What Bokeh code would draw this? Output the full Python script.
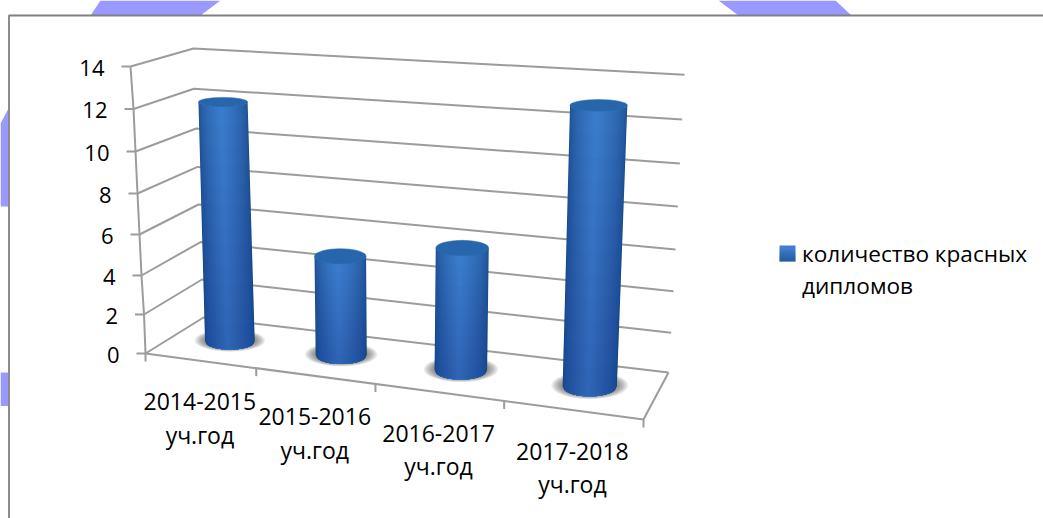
import numpy as np
from bokeh.embed import file_html
from bokeh.resources import INLINE
from bokeh.plotting import figure
from bokeh.models import Range1d
from bokeh.core.properties import value

categories = ["2014-2015", "2015-2016", "2016-2017", "2017-2018"]
category_suffix = "уч.год"
diplomas = [12, 5, 6, 13]
levels = [0, 2, 4, 6, 8, 10, 12, 14]
tick_labels = ["0", "2", "4", "6", "8", "10", "12", "14"]
legend_lines = ["количество красных", "дипломов"]

# Perspective box: screen position of each wall level at the four box corners
FL_x = [145, 143.5, 141, 139, 137, 135, 133, 130]
FL_y = [353, 314, 275, 234, 193, 151, 108.5, 66]
BL_x = [203, 201.5, 200, 198, 197, 195.7, 193.5, 193]
BL_y = [317, 279, 241.6, 204, 166.4, 128, 88.3, 48]
BR_x = [668, 670.7, 673, 675, 677.3, 679.3, 681.7, 684]
BR_y = [372, 332.3, 290.7, 249, 206, 163, 119, 74.3]
FR_x = [643, 644.7, 646.4, 648.1, 649.8, 651.5, 653.2, 655]
FR_y = [419 - (353 - y) / 287 * 318 for y in FL_y]

FONT = "Open Sans"
GRID = "#9c9c9c"
FRAME = "#808080"
PURPLE = "#9999ff"


def corner(xs, ys, v):
    return np.interp(v, levels, xs), np.interp(v, levels, ys)


def homography(c):
    src = [(0, 0), (1, 0), (1, 1), (0, 1)]
    A, b = [], []
    for (u, d), (x, y) in zip(src, c):
        A.append([u, d, 1, 0, 0, 0, -u * x, -d * x]); b.append(x)
        A.append([0, 0, 0, u, d, 1, -u * y, -d * y]); b.append(y)
    return np.append(np.linalg.solve(np.array(A, float), np.array(b, float)), 1).reshape(3, 3)


def P(cat, depth, v):
    """category position (0..n), depth (0 front..1 back), value -> screen x, y"""
    H = homography([corner(FL_x, FL_y, v), corner(FR_x, FR_y, v),
                    corner(BR_x, BR_y, v), corner(BL_x, BL_y, v)])
    r = H @ np.array([cat / len(categories), depth, 1.0])
    return r[0] / r[2], r[1] / r[2]


p = figure(width=1043, height=518, output_backend="svg", toolbar_location=None,
           x_range=Range1d(0, 1043), y_range=Range1d(518, 0), min_border=0,
           outline_line_color=None, background_fill_color="white", border_fill_color="white")
p.axis.visible = False
p.grid.visible = False

# Page-decoration bands behind the chart frame
p.patches([[90, 200, 220, 100], [738, 851, 835, 718], [0, 8, 8, 0], [0, 8, 8, 0]],
          [[15, 15, 0, 0], [15, 15, 0, 0], [123, 108, 206, 206], [372, 372, 405.5, 405.5]],
          fill_color=PURPLE, line_color=None)

# Chart frame
p.line([1043, 8.5, 8.5], [15, 15, 518], line_color=FRAME, line_width=1.8)

# Walls' grid lines
for v in levels:
    fl, bl, br = corner(FL_x, FL_y, v), corner(BL_x, BL_y, v), corner(BR_x, BR_y, v)
    p.line([fl[0], bl[0], br[0]], [fl[1], bl[1], br[1]], line_color=GRID, line_width=2)
    p.line([fl[0] - 9, fl[0]], [fl[1], fl[1]], line_color=GRID, line_width=2)

# Value axis
p.line(FL_x, FL_y, line_color=GRID, line_width=2)
p.line([FL_x[0], FL_x[0]], [FL_y[0], FL_y[0] + 8], line_color=GRID, line_width=2)

# Floor front and right edges, category ticks
fr0, br0 = corner(FR_x, FR_y, 0), corner(BR_x, BR_y, 0)
fl0 = corner(FL_x, FL_y, 0)
p.line([fl0[0], fr0[0], br0[0]], [fl0[1], fr0[1], br0[1]], line_color=GRID, line_width=2)
for i in range(1, len(categories) + 1):
    x, y = P(i, 0, 0)
    p.line([x, x], [y, y + 8], line_color=GRID, line_width=2)

# Value labels
p.text([corner(FL_x, FL_y, v)[0] - 26 for v in levels],
       [corner(FL_x, FL_y, v)[1] + 1 for v in levels], text=tick_labels,
       text_align="right", text_baseline="middle", text_font=value(FONT),
       text_font_size="22px", text_color="#000000")

# Category labels
for i, c in enumerate(categories):
    x, y = P(i + 0.5, 0, 0)
    p.text([x, x], [y + 41, y + 74], text=[c, category_suffix], text_align="center",
           text_baseline="alphabetic", text_font=value(FONT), text_font_size="23px",
           text_color="#000000")


def shade(t):
    light = np.array([0x3d, 0x7f, 0xd0], float)
    dark = np.array([0x20, 0x52, 0x92], float)
    k = np.clip(1 - abs(t), 0, 1) ** 0.55
    col = dark + (light - dark) * k
    return "#%02x%02x%02x" % tuple(int(a) for a in col)


HALF_W = 0.215
RADIUS_D = 0.22
TYPICAL_W = 26.0   # half width the perspective is damped towards
DAMP = 0.4
LEAN = 0.0035      # how far columns lean per unit of value and px from the vanishing line
LEAN_X = 393.0
HIGHLIGHT = -0.08
COLUMN_SHIFT = 1.5
for i, val in enumerate(diplomas):
    u = i + 0.5
    bx, by = P(u, 0.5, 0)
    bx += COLUMN_SHIFT
    ty = P(u, 0.5, val)[1]
    tx = bx + (bx - LEAN_X) * LEAN * val
    bw = TYPICAL_W + DAMP * ((P(u + HALF_W, 0.5, 0)[0] - P(u - HALF_W, 0.5, 0)[0]) / 2 - TYPICAL_W)
    tw = TYPICAL_W + DAMP * ((P(u + HALF_W, 0.5, val)[0] - P(u - HALF_W, 0.5, val)[0]) / 2 - TYPICAL_W)
    bh = (P(u, 0.5 - RADIUS_D, 0)[1] - P(u, 0.5 + RADIUS_D, 0)[1]) / 2
    th = (P(u, 0.5 - RADIUS_D, val)[1] - P(u, 0.5 + RADIUS_D, val)[1]) / 2

    # soft shadow on the floor
    for g in np.linspace(1.42, 1.02, 9):
        p.ellipse([bx], [by - 1], width=2 * bw * g, height=2 * bh * (g * 0.9 + 0.1),
                  fill_color="#3a3a3a", fill_alpha=0.085, line_color=None)

    def outline(t0, t1, f):
        """closed outline of the body between cross positions t0..t1, from the base up to fraction f"""
        ts = np.linspace(t0, t1, 25)
        xs, ys = [], []
        for t in ts:
            xs.append(bx + t * bw)
            ys.append(by + bh * np.sqrt(max(0, 1 - t * t)))
        for t in ts[::-1]:
            cx = bx + (tx - bx) * f + t * (bw + (tw - bw) * f)
            h = bh + (th - bh) * f
            xs.append(cx)
            ys.append(by + (ty - by) * f + h * np.sqrt(max(0, 1 - t * t)))
        return xs, ys

    # cylinder body: nested opaque layers, darkest outside, lightest at the highlight
    for k in np.linspace(0, 0.985, 30):
        t0 = -1 + k * (1 + HIGHLIGHT)
        t1 = 1 - k * (1 - HIGHLIGHT)
        xs, ys = outline(t0, t1, 1.0)
        p.patch(xs, ys, fill_color=shade(k - 1), line_color=None)
    # darkening towards the base
    for f in np.linspace(1.0, 0.1, 12):
        xs, ys = outline(-1, 1, f)
        p.patch(xs, ys, fill_color="#0a2850", fill_alpha=0.013, line_color=None)

    # cap
    p.ellipse([tx], [ty], width=2 * tw, height=2 * th, fill_color="#2866ac", line_color="#2a6ab2",
              line_width=0.5)

# Legend
SW_X0, SW_X1, SW_Y0, SW_Y1 = 779, 795, 245, 261
p.quad(left=SW_X0, right=SW_X1, top=SW_Y0, bottom=SW_Y1, fill_color="#3f7fce", line_color=None)
for y0 in np.linspace(SW_Y0 + 4, SW_Y1 - 1, 8):
    p.quad(left=SW_X0, right=SW_X1, top=y0, bottom=SW_Y1, fill_color="#1a3f78", fill_alpha=0.09,
           line_color=None)
p.text([801.5, 801.5], [253, 284.5], text=legend_lines, text_align="left",
       text_baseline="alphabetic", text_font=value(FONT), text_font_size="22.6px",
       text_color="#000000")

open("out.html", "w").write(file_html(p, INLINE))
